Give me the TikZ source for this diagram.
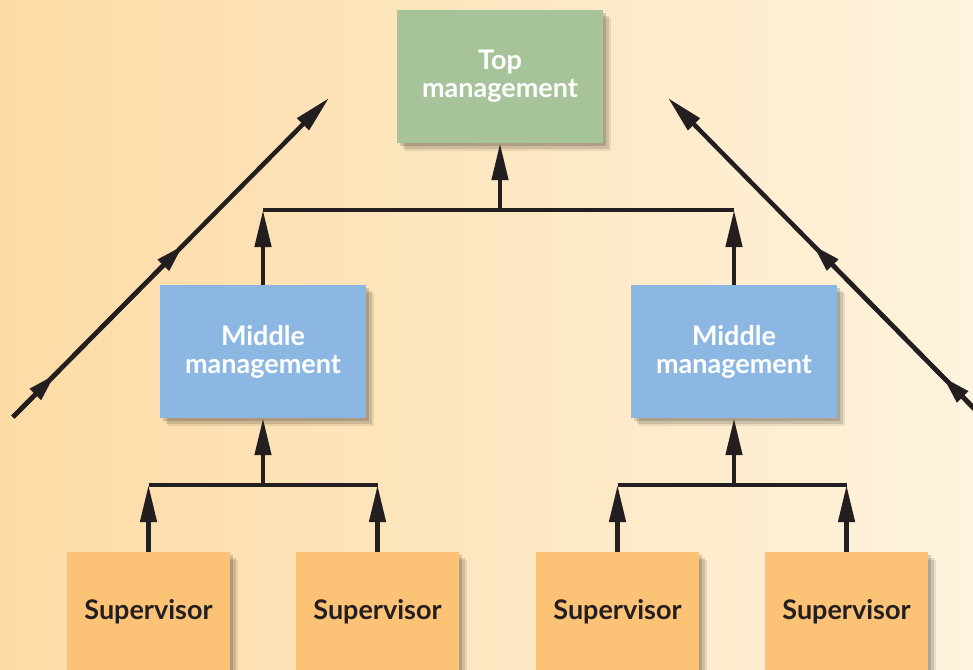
\documentclass[tikz,border=0pt]{standalone}
\usepackage{fontspec}
\setmainfont{Lato}
\usetikzlibrary{arrows.meta,shadows}

\definecolor{bgleft}{HTML}{FDDBA5}
\definecolor{bgright}{HTML}{FEF3DD}
\definecolor{topgreen}{HTML}{A7C39A}
\definecolor{midblue}{HTML}{8BB7E2}
\definecolor{suporange}{HTML}{FCC276}
\definecolor{ink}{HTML}{231F20}

\tikzset{
  endtip/.tip={Triangle[length=37pt,width=16pt]},
  midtip/.tip={Triangle[length=28pt,width=15pt]},
  box/.style={minimum width=206pt, minimum height=133pt, inner sep=0pt, align=center,
    font={\fontsize{27}{28}\selectfont\bfseries}, text=white,
    drop shadow={shadow xshift=3pt, shadow yshift=-3pt, opacity=.15, fill=black},
    drop shadow={shadow xshift=6pt, shadow yshift=-6pt, opacity=.12, fill=black},
    drop shadow={shadow xshift=8pt, shadow yshift=-8pt, opacity=.08, fill=black}},
  supbox/.style={box, minimum width=163pt, minimum height=120pt, fill=suporange, text=ink},
  link/.style={draw=ink, line width=4.5pt},
  uparrow/.style={link, -endtip},
}

\begin{document}
\begin{tikzpicture}[x=1pt, y=-1pt]

\useasboundingbox (0,0) rectangle (973,669);
\clip (0,0) rectangle (973,669);
\shade [left color=bgleft, right color=bgright] (0,0) rectangle (973,669);

\node [box, fill=topgreen] (top) at (500,76.5) {Top\\management};
\node [box, fill=midblue] (midl) at (263,351.5) {Middle\\management};
\node [box, fill=midblue] (midr) at (734,351.5) {Middle\\management};

\node [supbox] (sup1) at (148.5,612) {Supervisor};
\node [supbox] (sup2) at (377.5,612) {Supervisor};
\node [supbox] (sup3) at (617.5,612) {Supervisor};
\node [supbox] (sup4) at (846.5,612) {Supervisor};

\coordinate (bartop) at (500,210);
\coordinate (barl) at (263,485);
\coordinate (barr) at (734,485);

\draw [link] (midl.north |- bartop) -- (midr.north |- bartop);
\draw [link] (sup1.north |- barl) -- (sup2.north |- barl);
\draw [link] (sup3.north |- barr) -- (sup4.north |- barr);

\draw [uparrow] (bartop) -- (top.south);
\draw [uparrow] (midl.north) -- (midl.north |- bartop);
\draw [uparrow] (midr.north) -- (midr.north |- bartop);
\draw [uparrow] (barl) -- (midl.south);
\draw [uparrow] (barr) -- (midr.south);
\draw [uparrow] (sup1.north) -- (sup1.north |- barl);
\draw [uparrow] (sup2.north) -- (sup2.north |- barl);
\draw [uparrow] (sup3.north) -- (sup3.north |- barr);
\draw [uparrow] (sup4.north) -- (sup4.north |- barr);

\coordinate (l0) at (13,417);
\coordinate (l1) at (55,374.6);
\coordinate (l2) at (183,245.4);
\coordinate (l3) at (329,98);
\coordinate (r0) at (985,419.6);
\coordinate (r1) at (943,377);
\coordinate (r2) at (813,245.1);
\coordinate (r3) at (668,98);

\draw [link, -endtip] (l0) -- (l3);
\draw [link, -midtip] (l0) -- (l1);
\draw [link, -midtip] (l0) -- (l2);
\draw [link, -endtip] (r0) -- (r3);
\draw [link, -midtip] (r0) -- (r1);
\draw [link, -midtip] (r0) -- (r2);

\end{tikzpicture}
\end{document}
